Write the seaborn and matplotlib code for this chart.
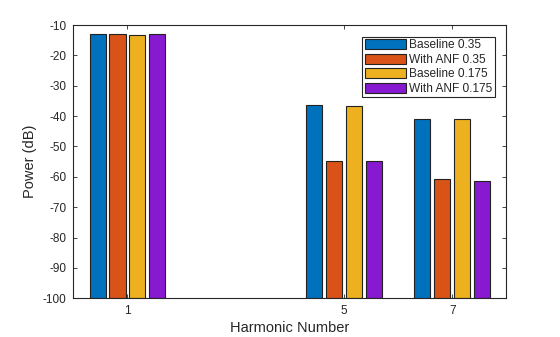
import matplotlib
matplotlib.use("Agg")
import matplotlib.pyplot as plt
import seaborn as sns
import pandas as pd

# Harmonic power levels (dB) for each configuration
harmonics = [1, 5, 7]
baseline_035 = [-13.1, -36.4, -41.1]
anf_035 = [-13.1, -54.7, -60.6]
baseline_0175 = [-13.4, -36.8, -41.1]
anf_0175 = [-13.1, -54.7, -61.5]
series_names = ["Baseline 0.35", "With ANF 0.35", "Baseline 0.175", "With ANF 0.175"]
y_ticks = list(range(-100, 0, 10))
y_floor = -100

series_values = [baseline_035, anf_035, baseline_0175, anf_0175]
rows = []
for name, vals in zip(series_names, series_values):
    for h, v in zip(harmonics, vals):
        rows.append({"Harmonic": h, "Power": v, "Series": name})
df = pd.DataFrame(rows)

palette = ["#0072BD", "#D95319", "#EDB120", "#8719D0"]

sns.set_style("white")
plt.rcParams["font.family"] = ["Liberation Sans", "DejaVu Sans"]

fig = plt.figure(figsize=(5.6, 3.37), dpi=100)
ax = fig.add_axes([0.1309, 0.1148, 0.7732, 0.8110])

# Bar heights measured up from the axis floor
df["Height"] = df["Power"] - y_floor
sns.barplot(data=df, x="Harmonic", y="Height", hue="Series", hue_order=series_names,
            palette=palette, native_scale=True, width=0.734, gap=0.19,
            edgecolor="#222222", linewidth=0.8, saturation=1,
            errorbar=None, ax=ax)
# Move each bar so it starts at the floor
for container in ax.containers:
    for bar in container:
        bar.set_y(y_floor)

ax.set_xlim(0, 8)
ax.set_ylim(-100, -10)
ax.set_xticks(harmonics)
ax.set_xticklabels([str(h) for h in harmonics])
ax.set_yticks(y_ticks)
ax.set_yticklabels([str(t) for t in y_ticks])
ax.tick_params(axis="both", direction="in", length=3, width=0.6, colors="#262626",
               labelsize=8.5, labelcolor="#262626", top=True, right=True,
               bottom=True, left=True, pad=5)
for s in ax.spines.values():
    s.set_color("#262626")
    s.set_linewidth(0.8)
ax.set_xlabel("Harmonic Number", fontsize=10.5, color="#262626", labelpad=3)
ax.set_ylabel("Power (dB)", fontsize=10.5, color="#262626", labelpad=4)

handles, labels = ax.get_legend_handles_labels()
leg = ax.legend(handles, labels, loc="upper right", bbox_to_anchor=(0.884, 0.891),
                bbox_transform=fig.transFigure, fontsize=8.6, frameon=True,
                fancybox=False, edgecolor="#262626", framealpha=1, borderaxespad=0,
                handlelength=3.45, handleheight=0.9, handletextpad=0.28,
                labelspacing=0.2, borderpad=0.22)
leg.get_frame().set_linewidth(0.8)
for t in leg.get_texts():
    t.set_color("#262626")

fig.savefig("out.png", dpi=100)
